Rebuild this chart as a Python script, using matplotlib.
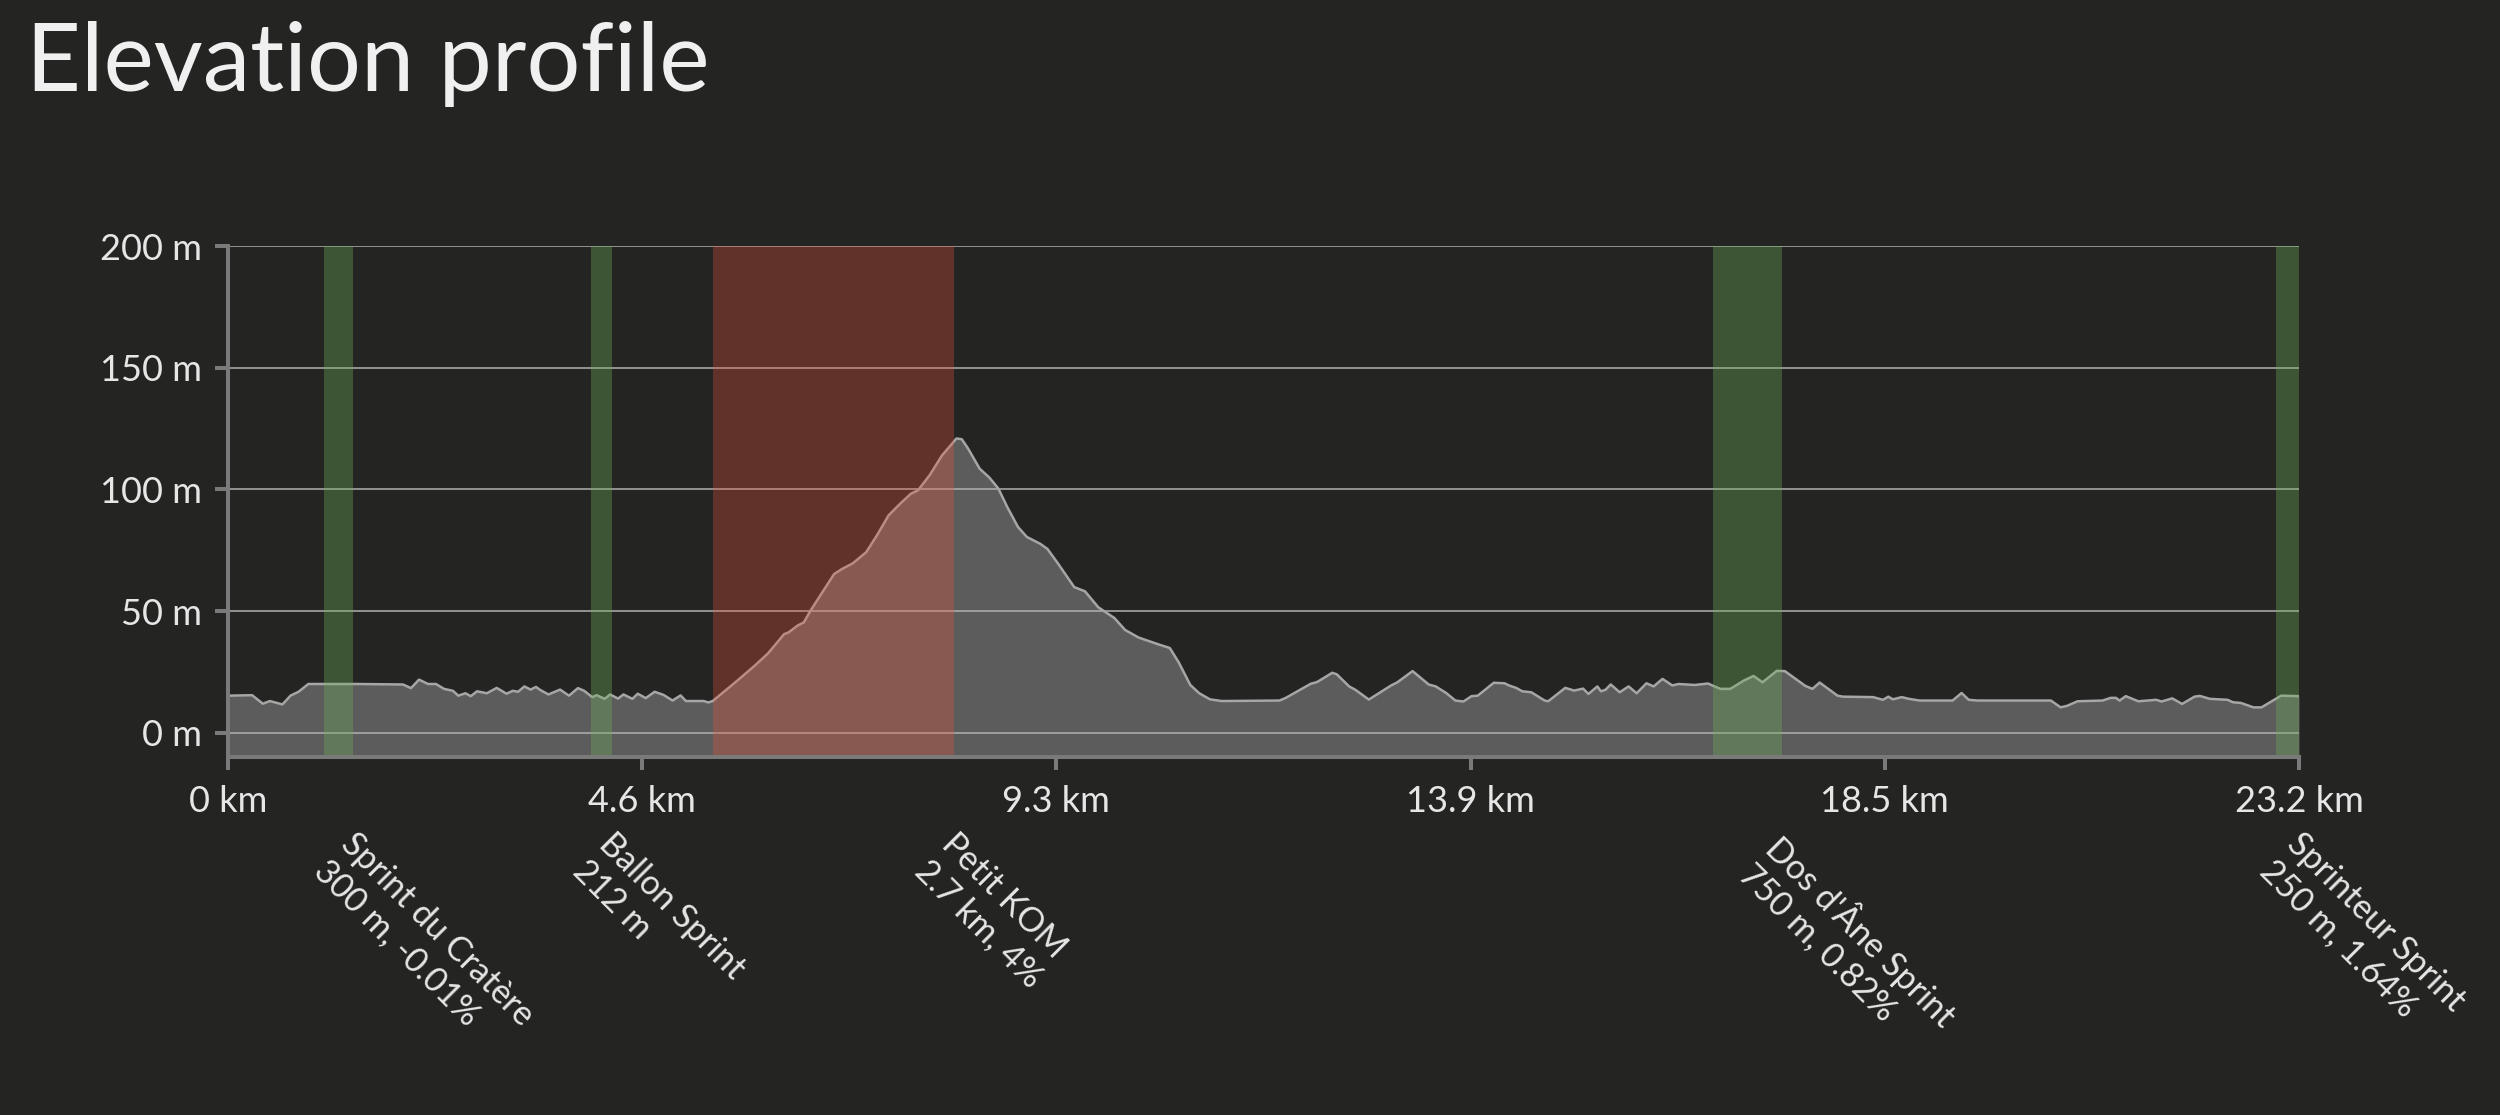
import matplotlib
matplotlib.use("Agg")
import matplotlib.pyplot as plt
import numpy as np

plt.rcParams['font.family'] = ['Lato', 'Noto Sans', 'DejaVu Sans']

# ---------------- data ----------------
distance_km = [0.0, 0.27, 0.39, 0.47, 0.61, 0.70, 0.79, 0.90, 1.45, 1.96, 2.05, 2.14, 2.24, 2.33,
               2.42, 2.52, 2.58, 2.66, 2.72, 2.79, 2.90, 3.01, 3.12, 3.19, 3.25, 3.32, 3.39, 3.45,
               3.50, 3.59, 3.72, 3.82, 3.92, 3.99, 4.08, 4.13, 4.22, 4.28, 4.37, 4.43, 4.53, 4.59,
               4.68, 4.78, 4.88, 4.98, 5.07, 5.13, 5.33, 5.38, 5.43, 5.68, 5.90, 6.05, 6.23, 6.28,
               6.38, 6.45, 6.53, 6.79, 6.88, 7.00, 7.15, 7.28, 7.40, 7.53, 7.65, 7.73, 7.86, 8.00,
               8.08, 8.16, 8.22, 8.29, 8.42, 8.53, 8.63, 8.73, 8.85, 8.95, 9.10, 9.18, 9.30, 9.48,
               9.60, 9.75, 9.93, 10.05, 10.20, 10.43, 10.55, 10.65, 10.78, 10.88, 11.00, 11.13,
               11.78, 11.85, 12.13, 12.20, 12.37, 12.42, 12.56, 12.63, 12.78, 13.03, 13.10, 13.27,
               13.45, 13.53, 13.65, 13.75, 13.84, 13.93, 14.00, 14.18, 14.30, 14.35, 14.43, 14.50,
               14.60, 14.75, 14.79, 14.98, 15.08, 15.18, 15.24, 15.34, 15.38, 15.43, 15.49, 15.59,
               15.69, 15.78, 15.89, 15.97, 16.07, 16.18, 16.25, 16.43, 16.58, 16.64, 16.72, 16.83,
               16.98, 17.09, 17.19, 17.35, 17.44, 17.67, 17.75, 17.83, 18.03, 18.09, 18.43, 18.54,
               18.60, 18.65, 18.75, 18.83, 18.95, 19.32, 19.42, 19.50, 19.60, 20.42, 20.53, 20.60,
               20.72, 21.00, 21.09, 21.15, 21.19, 21.26, 21.40, 21.60, 21.66, 21.78, 21.89, 22.03,
               22.09, 22.20, 22.40, 22.46, 22.55, 22.69, 22.78, 23.00, 23.20]
elevation_m = [15.2, 15.4, 11.9, 13.0, 11.6, 15.2, 16.8, 20.0, 20.0, 19.8, 18.3, 21.8, 20.0, 20.0,
               18.0, 17.2, 15.2, 16.2, 15.0, 17.0, 16.2, 18.4, 16.0, 17.2, 16.8, 19.0, 17.7, 18.8,
               17.5, 15.7, 17.7, 15.2, 18.3, 17.2, 14.6, 15.4, 13.9, 15.7, 14.0, 15.7, 13.9, 16.0,
               14.2, 16.8, 15.5, 13.2, 15.3, 13.0, 13.0, 12.4, 13.0, 20.6, 27.5, 32.6, 40.5, 41.2,
               44.0, 45.3, 50.4, 65.2, 67.3, 69.6, 74.2, 81.7, 89.3, 94.1, 98.2, 99.6, 105.8, 114.0,
               117.4, 120.9, 120.6, 116.8, 108.5, 104.8, 100.3, 92.7, 84.5, 80.4, 77.6, 75.5, 69.4, 59.8,
               58.1, 51.5, 47.1, 42.2, 39.1, 36.2, 34.8, 28.9, 19.6, 16.2, 13.7, 13.0,
               13.2, 14.3, 20.1, 20.8, 24.6, 24.0, 19.0, 17.6, 13.6, 19.4, 20.7, 25.3,
               19.8, 19.0, 16.2, 13.2, 12.8, 15.0, 15.2, 20.5, 20.3, 19.4, 18.4, 17.0,
               16.6, 13.2, 12.9, 18.4, 17.3, 18.1, 15.9, 19.0, 17.0, 17.6, 19.8, 16.6,
               19.0, 16.2, 20.3, 19.0, 22.1, 19.4, 20.0, 19.6, 20.2, 19.2, 18.0, 18.0,
               21.4, 23.3, 20.7, 25.4, 25.3, 19.2, 18.0, 20.6, 15.2, 14.8, 14.6, 13.5,
               14.8, 13.7, 14.6, 13.9, 13.2, 13.2, 16.3, 13.5, 13.2, 13.2, 10.4, 11.0,
               12.9, 13.2, 14.3, 14.3, 13.2, 15.0, 12.9, 13.5, 12.8, 14.1, 11.8, 14.8,
               15.1, 13.9, 13.5, 12.5, 12.2, 10.4, 10.4, 15.2, 15.0]

segment_names = ["Sprint du Cratère", "Ballon Sprint", "Petit KOM", "Dos d'Âne Sprint", "Sprinteur Sprint"]
segment_details = ["300 m, -0.01%", "212 m", "2.7 km, 4%", "750 m, 0.82%", "250 m, 1.64%"]
segment_start_km = [1.08, 4.07, 5.43, 16.64, 22.94]
segment_end_km = [1.40, 4.30, 8.13, 17.41, 23.20]
segment_types = ["sprint", "sprint", "kom", "sprint", "sprint"]

x_ticks_km = [0, 4.64, 9.28, 13.92, 18.56, 23.2]
x_tick_labels = ["0 km", "4.6 km", "9.3 km", "13.9 km", "18.5 km", "23.2 km"]
y_ticks_m = [0, 50, 100, 150, 200]
y_tick_labels = ["0 m", "50 m", "100 m", "150 m", "200 m"]

# ---------------- style ----------------
BG = "#242423"
TEXT = "#e6e6e6"
AXIS = "#7a7a7a"
GRID = "#b0b0b0"
FILL = "#5c5c5c"
LINE = "#a6a6a6"
BAND_COLORS = {"sprint": ((109/255, 178/255, 87/255), 0.35),
               "kom": ((235/255, 85/255, 55/255), 0.30)}

fig = plt.figure(figsize=(25, 11.15), dpi=100, facecolor=BG)
ax = fig.add_axes([228/2500, 1 - 757/1115, (2299 - 228)/2500, (757 - 246)/1115])
ax.set_facecolor(BG)

ymin, ymax = -10, 200
ax.set_xlim(0, 23.2)
ax.set_ylim(ymin, ymax)

ax.fill_between(distance_km, ymin, elevation_m, color=FILL, lw=0, zorder=1)
for y in y_ticks_m:
    ax.axhline(y, color=GRID, lw=1.1, zorder=2)
ax.plot(distance_km, elevation_m, color=LINE, lw=1.8, zorder=3, solid_joinstyle='round')

for s, e, t in zip(segment_start_km, segment_end_km, segment_types):
    c, a = BAND_COLORS[t]
    ax.axvspan(s, e, color=c, alpha=a, lw=0, zorder=4)

for sp in ["top", "right"]:
    ax.spines[sp].set_visible(False)
for sp in ["left", "bottom"]:
    ax.spines[sp].set_color(AXIS)
    ax.spines[sp].set_linewidth(2.9)
    ax.spines[sp].set_zorder(5)

ax.set_xticks(x_ticks_km)
ax.set_xticklabels(x_tick_labels)
ax.set_yticks(y_ticks_m)
ax.set_yticklabels(y_tick_labels)
ax.tick_params(axis='both', colors=AXIS, labelcolor=TEXT, length=9.5, width=2.9,
               labelsize=26, direction='out')
ax.tick_params(axis='x', pad=11)
ax.tick_params(axis='y', pad=9)

for name, det, e in zip(segment_names, segment_details, segment_end_km):
    ax.annotate(name + "\n" + det, xy=(e, 0), xycoords=('data', 'axes fraction'),
                xytext=(3, -51), textcoords='offset points',
                ha='left', va='top', rotation=-45, rotation_mode='anchor',
                fontsize=24.5, color=TEXT, linespacing=1.2, annotation_clip=False)

fig.text(26/2500, 1 - 21/1115, "Elevation profile", ha='left', va='top',
         fontsize=68.5, color="#f0f0f0", fontweight='normal')

fig.savefig("out.png", dpi=100, facecolor=BG)
